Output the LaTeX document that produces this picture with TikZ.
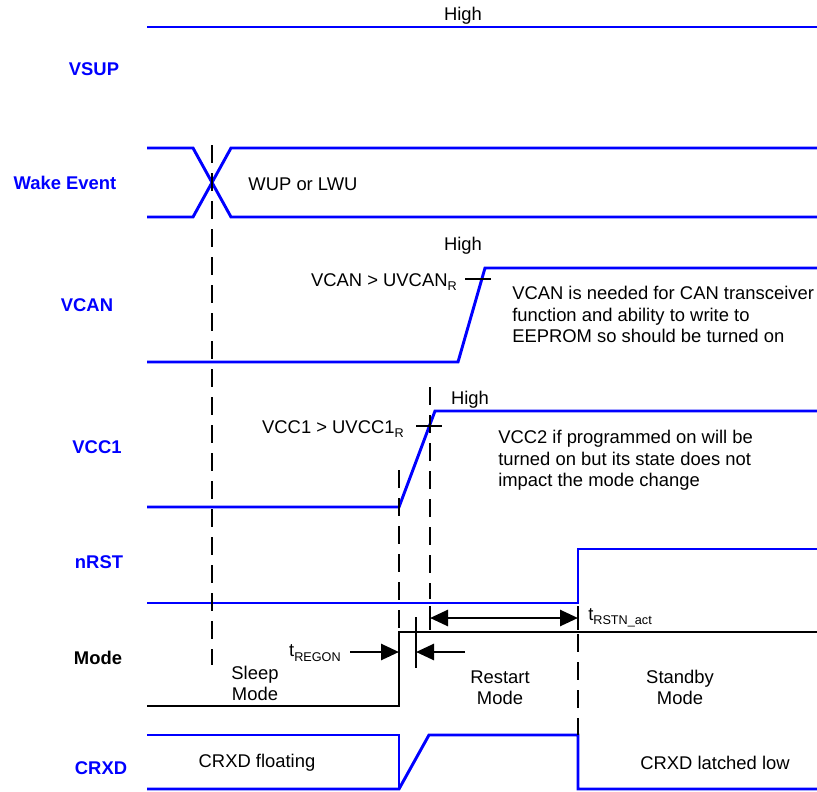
\documentclass[tikz,border=0pt]{standalone}
\usepackage{fontspec}
\setmainfont{Liberation Sans}
\usetikzlibrary{arrows.meta}
\newcommand{\lowidx}[1]{\raisebox{-0.45ex}{\fontsize{9.5}{10}\selectfont #1}}

\begin{document}
\begin{tikzpicture}[x=0.75pt,y=-0.75pt,
	sig/.style={draw=blue,line width=2.2pt},
	lvl/.style={draw=black,line width=2.2pt},
	guide/.style={draw=black,line width=2pt,dash pattern=on 13.5pt off 7.5pt},
	tickmark/.style={draw=black,line width=2pt},
	dim/.style={line width=2pt,-{Triangle[length=13.5pt,width=12pt]}},
	every node/.style={font=\fontsize{13.8}{16.1}\selectfont},
	signame/.style={font=\fontsize{13.8}{16.1}\selectfont\bfseries,text=blue},
	note/.style={align=left,anchor=north west,inner sep=0pt}]
	\useasboundingbox (0,0) rectangle (817,792);
	% signal names
	\begin{scope}[every node/.style={signame}]
		\node (vsup) at (94,69) {VSUP};
		\node (wake) at (65,183) {Wake Event};
		\node (vcan) at (87,305) {VCAN};
		\node (vcc1) at (97,447) {VCC1};
		\node (nrst) at (99,562) {nRST};
		\node[text=black] (mode) at (98,658) {Mode};
		\node (crxd) at (101,768) {CRXD};
	\end{scope}
	% waveforms
	\draw[sig] (147,27) -- (817,27);
	\draw[sig] (147,148) -- (193,148) -- (231,217) -- (817,217);
	\draw[sig] (147,217) -- (193,217) -- (231,148) -- (817,148);
	\draw[sig] (147,362) -- (458,362) -- (485,268) -- (817,268);
	\draw[sig] (147,507) -- (399,507) -- (435,411) -- (817,411);
	\draw[sig] (147,603) -- (578,603) -- (578,549) -- (817,549);
	\draw[lvl] (147,706) -- (399,706) -- (399,632) -- (817,632);
	\draw[sig] (147,735) -- (399,735) -- (399,789);
	\draw[sig] (147,789) -- (399,789) -- (429,735) -- (578,735) -- (578,789) -- (817,789);
	% guides and thresholds
	\draw[guide] (212,145) -- (212,665);
	\draw[guide] (399,470) -- (399,632);
	\draw[guide] (430,387) -- (430,599);
	\draw[guide] (578,634) -- (578,735);
	\draw[tickmark] (465,279) -- (491,279);
	\draw[tickmark] (416,426) -- (442,426);
	\draw[tickmark] (430,606) -- (430,630);
	\draw[tickmark] (578,606) -- (578,630);
	\draw[tickmark] (416,617) -- (416,668);
	% timing arrows
	\coordinate (rstnA) at (430,618);
	\coordinate (rstnB) at (578,618);
	\coordinate (regonA) at (350,652);
	\coordinate (regonB) at (399,652);
	\coordinate (regonC) at (465,652);
	\coordinate (regonD) at (416,652);
	\draw[dim,{Triangle[length=13.5pt,width=12pt]}-{Triangle[length=13.5pt,width=12pt]}] (rstnA) -- (rstnB);
	\draw[dim] (regonA) -- (regonB);
	\draw[dim] (regonC) -- (regonD);
	% texts
	\node (vsuphigh) at (463,16) {High};
	\node (wakeinfo) at (303,184) {WUP or LWU};
	\node (vcanhigh) at (463,246) {High};
	\node[anchor=east,inner sep=0pt] (vcanth) at (457,282) {VCAN > UVCAN\lowidx{R}};
	\node[note] (vcannote) at (512,286) {VCAN is needed for CAN transceiver\\function and ability to write to\\EEPROM so should be turned on};
	\node (vcchigh) at (470,400) {High};
	\node[anchor=east,inner sep=0pt] (vccth) at (404,429) {VCC1 > UVCC1\lowidx{R}};
	\node[note] (vccnote) at (498,430) {VCC2 if programmed on will be\\turned on but its state does not\\impact the mode change};
	\node[anchor=west,inner sep=0pt] (rstnlbl) at (588,618) {t\lowidx{RSTN\_act}};
	\node[anchor=east,inner sep=0pt] (regonlbl) at (341,653) {t\lowidx{REGON}};
	\node[align=center] (sleep) at (255,683.5) {Sleep\\Mode};
	\node[align=center] (restart) at (500,687.5) {Restart\\Mode};
	\node[align=center] (standby) at (680,687.5) {Standby\\Mode};
	\node (floating) at (257,763) {CRXD floating};
	\node (latched) at (715,763) {CRXD latched low};
\end{tikzpicture}
\end{document}
